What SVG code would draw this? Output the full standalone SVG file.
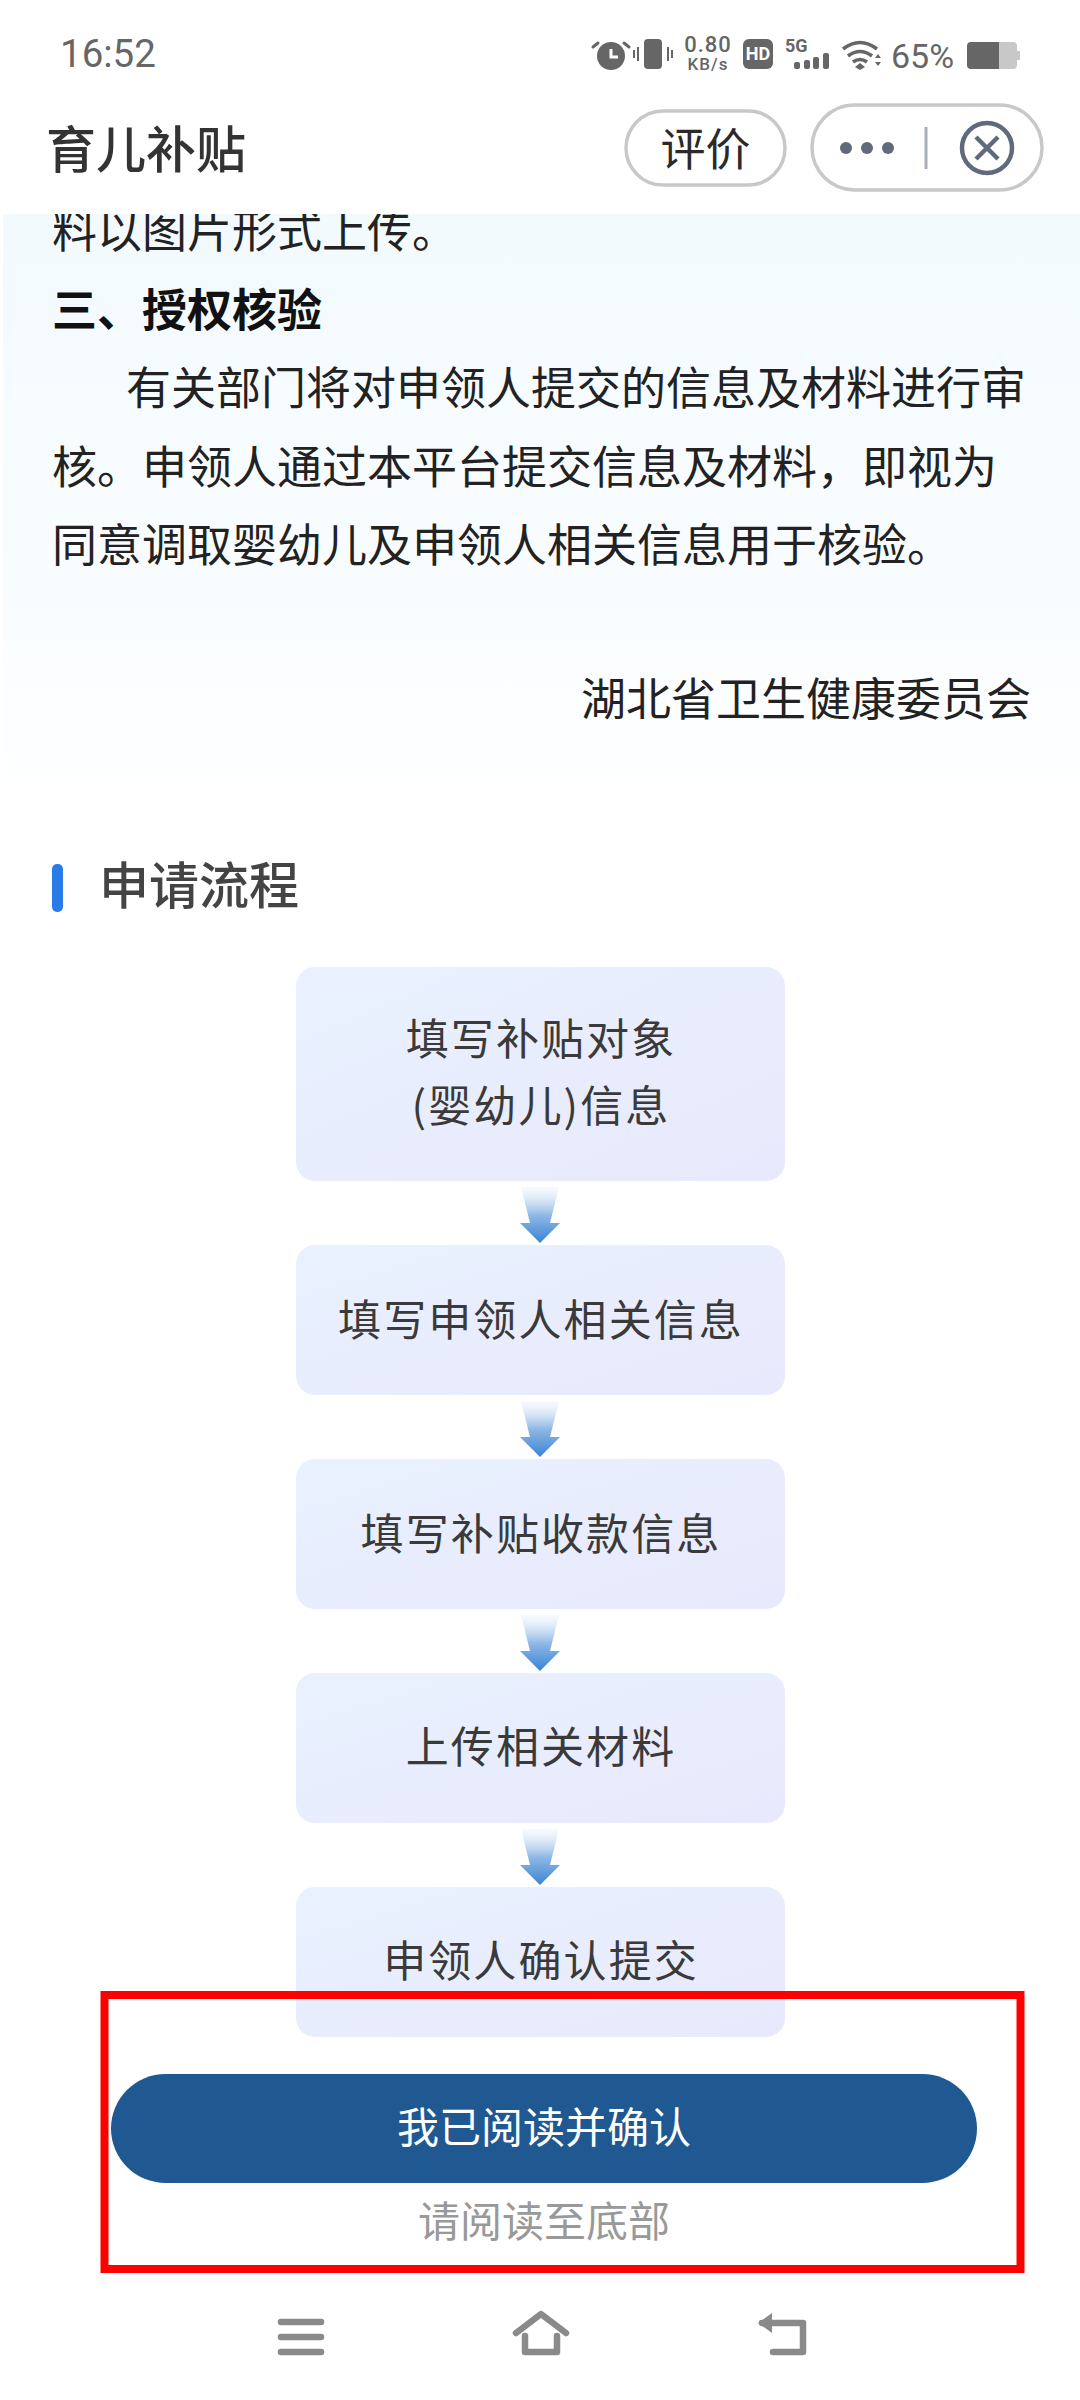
<svg xmlns="http://www.w3.org/2000/svg" width="1080" height="2400" viewBox="0 0 1080 2400">
<style>
text{font-family:"Noto Sans CJK SC","Noto Sans",sans-serif}
.lat{font-family:Roboto,"Noto Sans",sans-serif;fill:#666}
.body{font-size:45px;fill:#222}
.step{font-size:43px;fill:#3a3a3a;text-anchor:middle;letter-spacing:2.1px}
.box{fill:url(#boxG)}
.arr{fill:url(#arrG)}
.nav{fill:none;stroke:#8a8a8a;stroke-width:6.5;stroke-linecap:round;stroke-linejoin:round}
.pill{fill:#fff;stroke:#c8c8c8;stroke-width:3.5}
.sig{fill:#666}
</style>
<defs>
<linearGradient id="bgG" x1="0" y1="0" x2="0" y2="1"><stop offset="0" stop-color="#f2fafe"/><stop offset=".5" stop-color="#f8fcff"/><stop offset="1" stop-color="#fff"/></linearGradient>
<linearGradient id="boxG" x1="0" y1="0" x2="1" y2="1"><stop offset="0" stop-color="#e9f1fe"/><stop offset="1" stop-color="#e8e9fc"/></linearGradient>
<linearGradient id="arrG" x1="0" y1="0" x2="0" y2="1"><stop offset="0" stop-color="#dceaf8" stop-opacity=".2"/><stop offset=".5" stop-color="#8fb8e6"/><stop offset="1" stop-color="#3a84d4"/></linearGradient>
</defs>
<rect width="1080" height="2400" fill="#fff"/>
<g id="content">
<rect x="3" y="214" width="1077" height="620" fill="url(#bgG)"/>
<text class="body" x="52" y="248">料以图片形式上传。</text>
<text class="body" x="52" y="327" font-weight="700" style="fill:#111">三、授权核验</text>
<text class="body" x="126" y="405">有关部门将对申领人提交的信息及材料进行审</text>
<text class="body" x="52" y="484">核。申领人通过本平台提交信息及材料，即视为</text>
<text class="body" x="52" y="562">同意调取婴幼儿及申领人相关信息用于核验。</text>
<text class="body" x="1031" y="716" text-anchor="end">湖北省卫生健康委员会</text>
</g>
<g id="header">
<rect width="1080" height="214" fill="#fff"/>
<text class="lat" x="60" y="67" font-size="38.5">16:52</text>
<g id="status-icons">
<circle cx="611" cy="56" r="14" fill="#666"/>
<path d="M611 49v8h7" fill="none" stroke="#fff" stroke-width="3"/>
<path d="M598 43l-5 4M624 43l5 4" stroke="#666" stroke-width="3" stroke-linecap="round"/>
<rect x="644" y="39" width="18" height="30" rx="4" fill="#666"/>
<path d="M638 47v14M634 50v8M668 47v14M672 50v8" stroke="#666" stroke-width="2"/>
<text class="lat" x="708" y="52" font-size="22" font-weight="500" text-anchor="middle" letter-spacing="1">0.80</text>
<text class="lat" x="708" y="70" font-size="17" font-weight="500" text-anchor="middle" letter-spacing="1">KB/s</text>
<rect x="743" y="39" width="30" height="30" rx="6" fill="#666"/>
<text x="758" y="60" font-size="18" font-weight="700" fill="#fff" text-anchor="middle" style="font-family:Roboto,sans-serif">HD</text>
<text class="lat" x="785" y="52" font-size="18" font-weight="700">5G</text>
<rect class="sig" x="794" y="62" width="6" height="7" rx="2"/>
<rect class="sig" x="804" y="60" width="6" height="9" rx="2"/>
<rect class="sig" x="813" y="57" width="6" height="12" rx="2"/>
<rect class="sig" x="823" y="53" width="6" height="16" rx="2"/>
<path d="M843 49q17-13 34 0M848 56q12-9 24 0M853 62q7-5 14 0" fill="none" stroke="#666" stroke-width="3.5"/>
<path d="M855 67l5-4 5 4-5 3z" fill="#666"/>
<path d="M875 58l3-4 3 4zM875 62l3 4 3-4z" fill="#666"/>
<text class="lat" x="891" y="68" font-size="34">65%</text>
<path d="M971 42h28v27h-28a4 4 0 0 1-4-4v-19a4 4 0 0 1 4-4z" fill="#666"/>
<path d="M999 42h14a4 4 0 0 1 4 4v5h3v9h-3v5a4 4 0 0 1-4 4h-14z" fill="#c8c8c8"/>
</g>
<text x="46" y="168" font-size="50" font-weight="500" fill="#333">育儿补贴</text>
<g id="rate-button">
<rect class="pill" x="626" y="111" width="159" height="74" rx="37"/>
<text x="705.500" y="166" font-size="45" fill="#2a2a2a" text-anchor="middle">评价</text>
</g>
<g id="capsule">
<rect class="pill" x="812" y="105" width="230" height="85" rx="42.500"/>
<circle cx="846" cy="148" r="6" fill="#5f6b7c"/><circle cx="867" cy="148" r="6" fill="#5f6b7c"/><circle cx="888" cy="148" r="6" fill="#5f6b7c"/>
<rect x="924.500" y="127" width="3" height="42" fill="#a8afb8"/>
<circle cx="987" cy="148" r="25" fill="none" stroke="#5f6b7c" stroke-width="4.500"/>
<path d="M976 137l22 22M998 137l-22 22" stroke="#5f6b7c" stroke-width="4.500"/>
</g>
</g>
<g id="section-title">
<rect x="52" y="864" width="11" height="48" rx="5" fill="#2a7ae8"/>
<text x="99" y="904" font-size="50" font-weight="500" fill="#444">申请流程</text>
</g>
<g id="connectors">
<path class="arr" d="M521 1187h38l-9 36h10l-20 20-20-20h10z"/>
<path class="arr" d="M521 1401h38l-9 36h10l-20 20-20-20h10z"/>
<path class="arr" d="M521 1615h38l-9 36h10l-20 20-20-20h10z"/>
<path class="arr" d="M521 1829h38l-9 36h10l-20 20-20-20h10z"/>
</g>
<g id="step-1"><rect class="box" x="296" y="967" width="489" height="214" rx="19"/><text class="step" x="541" y="1055">填写补贴对象</text><text class="step" x="541" y="1122">(婴幼儿)信息</text></g>
<g id="step-2"><rect class="box" x="296" y="1245" width="489" height="150" rx="19"/><text class="step" x="541" y="1336">填写申领人相关信息</text></g>
<g id="step-3"><rect class="box" x="296" y="1459" width="489" height="150" rx="19"/><text class="step" x="541" y="1550">填写补贴收款信息</text></g>
<g id="step-4"><rect class="box" x="296" y="1673" width="489" height="150" rx="19"/><text class="step" x="541" y="1763">上传相关材料</text></g>
<g id="step-5"><rect class="box" x="296" y="1887" width="489" height="150" rx="19"/><text class="step" x="541" y="1977">申领人确认提交</text></g>
<g id="confirm">
<rect x="111" y="2074" width="866" height="109" rx="54.500" fill="#205892"/>
<text x="544" y="2143" font-size="42" fill="#fff" text-anchor="middle">我已阅读并确认</text>
<text x="544" y="2237" font-size="42" fill="#999" text-anchor="middle">请阅读至底部</text>
</g>
<rect id="highlight" x="104.500" y="1995" width="916" height="274" fill="none" stroke="#f00" stroke-width="8"/>
<g id="navbar">
<path class="nav" d="M281 2322h40M281 2337h40M281 2352h40"/>
<path class="nav" d="M516 2333l25-19 25 19M525 2336v16h32v-16"/>
<path class="nav" d="M762 2323h41v29h-30"/>
<path d="M772 2313v20l-14-10z" fill="#8a8a8a"/>
</g>
</svg>
